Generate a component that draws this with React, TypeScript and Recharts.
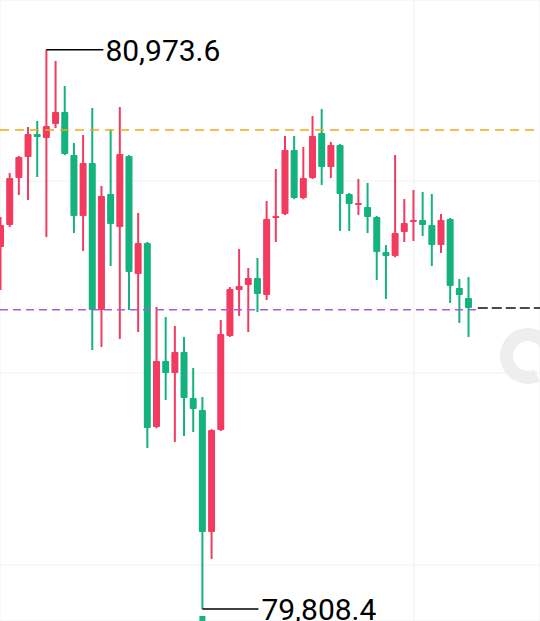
import {
  Bar,
  CartesianGrid,
  ComposedChart,
  ReferenceLine,
  XAxis,
  YAxis,
} from "recharts";

const RED = "#f33b60";
const GREEN = "#13b27f";

// candles, oldest first (red = up, green = down)
const opens = [
  80562.5, 80608.4, 80706.3, 80750.0, 80797.9, 80789.6, 80818.8, 80843.8, 80754.2, 80627.1,
  80737.5, 80431.3, 80672.9, 80604.2, 80752.1, 80506.3, 80570.9, 80187.5, 80325.0, 80300.0,
  80343.8, 80247.9, 80222.9, 79968.8, 80181.3, 80377.1, 80472.9, 80483.4, 80497.9, 80462.5,
  80622.9, 80631.3, 80764.6, 80664.6, 80706.3, 80800.0, 80729.2, 80775.0, 80672.9, 80650.0,
  80645.9, 80625.0, 80552.1, 80543.8, 80593.8, 80614.6, 80618.8, 80608.4, 80566.7, 80620.9,
  80477.1, 80456.3,
];
const closes = [
  80608.4, 80706.3, 80750.0, 80797.9, 80791.7, 80814.6, 80843.8, 80756.3, 80627.1, 80737.5,
  80431.3, 80668.8, 80610.4, 80756.3, 80510.4, 80570.9, 80185.4, 80325.0, 80300.0, 80343.8,
  80247.9, 80225.0, 79968.8, 80181.3, 80381.3, 80475.0, 80481.3, 80497.9, 80464.6, 80620.9,
  80627.1, 80764.6, 80664.6, 80706.3, 80793.8, 80729.2, 80775.0, 80672.9, 80652.1, 80654.2,
  80625.0, 80552.1, 80543.8, 80591.7, 80612.5, 80618.8, 80608.4, 80566.7, 80618.8, 80481.3,
  80462.5, 80435.4,
];
const highs = [
  80625.0, 80716.7, 80752.1, 80812.5, 80825.0, 80973.6, 80950.0, 80897.9, 80779.2, 80795.9,
  80852.1, 80689.6, 80808.4, 80854.2, 80754.0, 80633.4, 80573.0, 80437.5, 80416.7, 80397.9,
  80375.0, 80310.4, 80250.0, 80183.0, 80410.4, 80479.2, 80558.4, 80518.8, 80539.6, 80658.4,
  80725.0, 80793.8, 80793.8, 80770.9, 80835.4, 80850.0, 80781.3, 80777.0, 80675.0, 80704.2,
  80695.9, 80627.0, 80566.7, 80754.2, 80662.5, 80681.3, 80677.1, 80672.9, 80631.3, 80623.0,
  80495.9, 80500.0,
];
const lows = [
  80472.9, 80604.0, 80670.9, 80660.4, 80708.4, 80583.4, 80810.4, 80754.0, 80591.7, 80554.2,
  80347.9, 80354.2, 80522.9, 80370.9, 80431.3, 80385.4, 80143.8, 80185.0, 80243.8, 80156.3,
  80168.8, 80177.1, 79808.4, 79912.5, 80179.0, 80375.0, 80418.8, 80385.4, 80427.1, 80452.1,
  80572.9, 80629.0, 80662.0, 80662.0, 80704.0, 80691.7, 80706.3, 80595.9, 80595.9, 80629.2,
  80591.7, 80493.8, 80454.2, 80541.0, 80572.9, 80575.0, 80585.4, 80522.9, 80550.0, 80445.9,
  80404.2, 80375.0,
];

const gridPrices = [79900, 80300, 80700];
const gridTimes = [0.8, 45.05];
const markPrice = 80806;
const avgPrice = 80432;
const lastPrice = closes[closes.length - 1];

const data = opens.map((o, i) => ({
  i,
  open: o,
  close: closes[i],
  high: highs[i],
  low: lows[i],
  range: [lows[i], highs[i]],
}));

const HIGH_MAX = Math.max(...highs);
const LOW_MIN = Math.min(...lows);
const fmt = (v: number) =>
  v.toLocaleString("en-US", { minimumFractionDigits: 1, maximumFractionDigits: 1 });

function Candle(props: any) {
  const { x, y, width, height, payload } = props;
  if (!payload) return null;
  const { open, close, high, low } = payload;
  const top = Math.min(y, y + height);
  const h = Math.abs(height);
  const per = h / (high - low || 1);
  const yOf = (v: number) => top + (high - v) * per;
  const cx = x + width / 2;
  const color = close >= open ? RED : GREEN;
  const bTop = yOf(Math.max(open, close));
  const bH = Math.max(yOf(Math.min(open, close)) - bTop, 1.5);
  return (
    <g>
      <line x1={cx} x2={cx} y1={top} y2={top + h} stroke={color} strokeWidth={2} />
      <rect x={x} y={bTop} width={width} height={bH} fill={color} rx={1} />
      {high === HIGH_MAX && (
        <g>
          <line x1={cx} x2={cx + 57} y1={top} y2={top} stroke="#000" strokeWidth={1.5} />
          <text x={cx + 59} y={top + 11} fontSize={30} fontFamily="Roboto, Arial" fill="#000">
            {fmt(high)}
          </text>
        </g>
      )}
      {low === LOW_MIN && (
        <g>
          <line x1={cx} x2={cx + 56} y1={top + h} y2={top + h} stroke="#000" strokeWidth={1.5} />
          <text x={cx + 59} y={top + h + 11} fontSize={30} fontFamily="Roboto, Arial" fill="#000">
            {fmt(low)}
          </text>
          <rect x={cx - 3} y={top + h + 7} width={6} height={5} fill={GREEN} />
        </g>
      )}
    </g>
  );
}

export default function App() {
  return (
    <div style={{ position: "relative", width: 540, height: 621, overflow: "hidden", background: "#fff" }}>
      <style>{"body{margin:0}"}</style>
      <ComposedChart width={540} height={621} data={data} margin={{ top: 0, right: 0, bottom: 0, left: 0 }}>
        <CartesianGrid stroke="#f1f1f1" />
        <XAxis
          dataKey="i"
          type="number"
          domain={[-0.065, 58.78]}
          allowDataOverflow
          ticks={gridTimes}
          hide
        />
        <YAxis domain={[79783.3, 81077.1]} allowDataOverflow ticks={gridPrices} hide />
        <ReferenceLine y={markPrice} stroke="#f2a81d" strokeDasharray="9 6" strokeWidth={1.5} />
        <ReferenceLine
          segment={[{ x: -0.065, y: avgPrice }, { x: 52, y: avgPrice }]}
          stroke="#a95fd6"
          strokeDasharray="8 5"
          strokeWidth={1.5}
        />
        <ReferenceLine
          segment={[{ x: 52, y: lastPrice }, { x: 58.78, y: lastPrice }]}
          stroke="#111"
          strokeDasharray="10 4"
          strokeWidth={1.5}
        />
        <Bar dataKey="range" barSize={7} shape={Candle} isAnimationActive={false} />
      </ComposedChart>
      <div
        style={{
          position: "absolute",
          left: 500,
          top: 328,
          width: 30,
          height: 30,
          borderRadius: "50%",
          border: "13px solid #eeeeee",
          borderRightColor: "transparent",
          transform: "rotate(20deg)",
        }}
      />
    </div>
  );
}
